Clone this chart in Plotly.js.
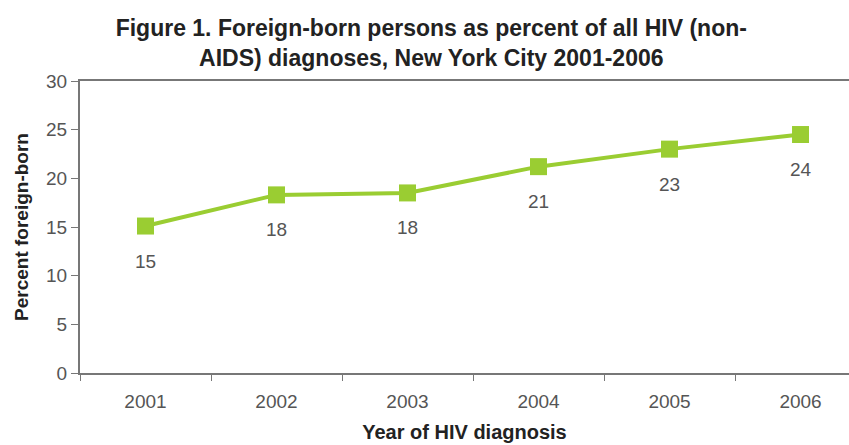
<!DOCTYPE html>
<html><head><meta charset="utf-8">
<script src="https://cdn.plot.ly/plotly-3.0.1.min.js"></script>
<style>html,body{margin:0;padding:0;background:#fff}#c{width:849px;height:445px}</style>
</head><body><div id="c"></div>
<script>
const years = ['2001','2002','2003','2004','2005','2006'];
const percentForeignBorn = [15.1, 18.3, 18.5, 21.2, 23.0, 24.5];
const pointLabels = ['15','18','18','21','23','24'];
const yTicks = [0,5,10,15,20,25,30];

const green = '#9ACD32';
const FONT = 'Liberation Sans, Arial, sans-serif';
const trace = {
  x: years, y: percentForeignBorn, type: 'scatter', mode: 'lines+markers',
  line: {color: green, width: 4},
  marker: {symbol: 'square', size: 17, color: green},
  hoverinfo: 'skip'
};
const annotations = years.map((yr, i) => ({
  x: i, y: percentForeignBorn[i], xref: 'x', yref: 'y',
  text: pointLabels[i], showarrow: false, yshift: -35,
  font: {family: FONT, size: 19, color: '#555'}
}));
const layout = {
  width: 849, height: 445,
  margin: {l: 80, r: 0, t: 81, b: 72},
  paper_bgcolor: '#fff', plot_bgcolor: '#fff',
  showlegend: false,
  title: {
    text: '<b>Figure 1. Foreign-born persons as percent of all HIV (non-<br>AIDS) diagnoses, New York City 2001-2006</b>',
    x: 0.508, xanchor: 'center', yref: 'container', y: 0.92, yanchor: 'top',
    font: {family: FONT, size: 23, color: '#222'}
  },
  xaxis: {
    type: 'category', range: [-0.5, 5.37],
    showline: true, linecolor: '#777', linewidth: 2, mirror: true,
    ticks: 'outside', tickson: 'boundaries', ticklen: 6, tickcolor: '#777', tickwidth: 1,
    ticklabelstandoff: 10,
    showgrid: false, zeroline: false,
    tickfont: {family: FONT, size: 19, color: '#555'},
    title: {text: '<b>Year of HIV diagnosis</b>', standoff: 14,
      font: {family: FONT, size: 20, color: '#222'}}
  },
  yaxis: {
    range: [0, 30], tickvals: yTicks, ticktext: yTicks.map(String),
    showline: true, linecolor: '#777', linewidth: 2,
    ticks: 'outside', ticklen: 7, tickcolor: '#777', tickwidth: 1,
    showgrid: false, zeroline: false,
    tickfont: {family: FONT, size: 19, color: '#555'},
    title: {text: '<b>Percent foreign-born</b>', standoff: 12,
      font: {family: FONT, size: 19, color: '#222'}}
  },
  annotations: annotations
};
Plotly.newPlot('c', [trace], layout, {staticPlot: true});
</script></body></html>
